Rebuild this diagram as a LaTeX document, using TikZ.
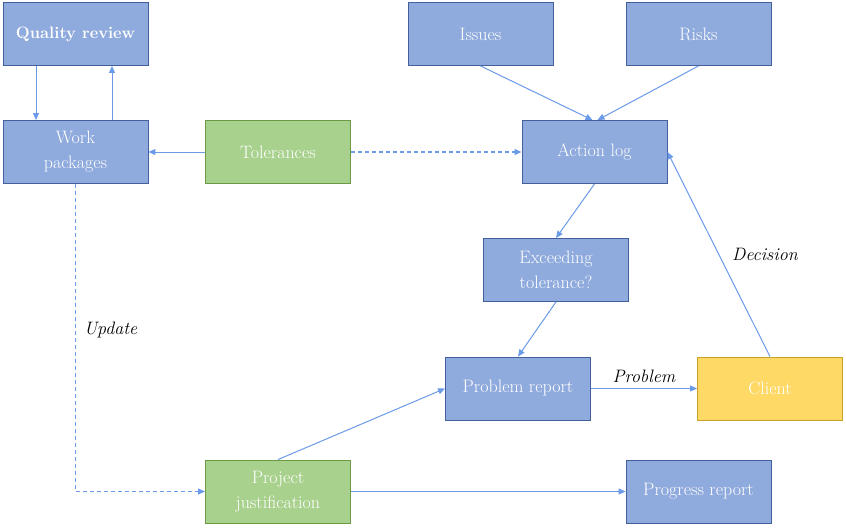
\documentclass[tikz,border=0pt]{standalone}
\usepackage{fontspec}
\usepackage{xcolor}
\usepackage{tikz}
\usetikzlibrary{positioning,arrows.meta}
\definecolor{boxblue}{HTML}{8FAADC}
\definecolor{edgeblue}{HTML}{41609C}
\definecolor{boxgreen}{HTML}{A9D18E}
\definecolor{edgegreen}{HTML}{6A9A45}
\definecolor{boxyellow}{HTML}{FFD966}
\definecolor{edgeyellow}{HTML}{C9A227}
\definecolor{flowblue}{HTML}{6B9AE8}
\tikzset{
  % --- boxes -----------------------------------------------------------------
  pbox/.style={rectangle,draw=edgeblue,fill=boxblue,line width=0.9pt,
               minimum width=145pt,minimum height=63pt,inner sep=2pt,
               text=white,align=center,font=\fontsize{18}{25}\selectfont},
  tolbox/.style={pbox,draw=edgegreen,fill=boxgreen},
  clibox/.style={pbox,draw=edgeyellow,fill=boxyellow},
  % --- flows -----------------------------------------------------------------
  flow/.style={-{Triangle[length=7pt,width=6pt]},flowblue,line width=1pt},
  dflow/.style={flow,dash pattern=on 4pt off 3pt,line width=1.3pt},
  elab/.style={font=\fontsize{18}{25}\selectfont\itshape,text=black,
               inner sep=2pt},
}

\begin{document}
\begin{tikzpicture}[x=1pt, y=-1pt]
  \useasboundingbox (0,0) rectangle (846,528);

  \node[pbox]   (qr)   at (75.5,34)    {\fontsize{16.5}{25}\selectfont\textbf{Quality review}};
  \node[pbox]   (wp)   at (75.5,152) {Work\\packages};
  \node[tolbox] (tol)  at (278,152)  {Tolerances};
  \node[pbox]   (iss)  at (480.5,34)   {Issues};
  \node[pbox]   (risk) at (698.5,34)   {Risks};
  \node[pbox]   (act)  at (594.5,152) {Action log};
  \node[pbox]   (exc)  at (556,270)    {Exceeding\\tolerance?};
  \node[pbox]   (prob) at (518,388.5)  {Problem report};
  \node[clibox] (cli)  at (770,388.5)  {Client};
  \node[tolbox] (pj)   at (278,491.5)  {Project\\justification};
  \node[pbox]   (prog) at (698.5,491.5) {Progress report};

  \draw[flow] ([xshift=-39.5pt]qr.south) -- ([xshift=-39.5pt]wp.north);
  \draw[flow] ([xshift=36.5pt]wp.north) -- ([xshift=36.5pt]qr.south);
  \draw[flow] (tol) -- (wp);
  \draw[dflow] (tol) -- (act);

  \draw[flow] (iss.south) -- ([xshift=-2pt]act.north);
  \draw[flow] (risk.south) -- ([xshift=3pt]act.north);
  \draw[flow] (act.south) -- (exc.north);
  \draw[flow] (exc.south) -- (prob.north);
  \draw[flow] (prob) -- node[elab,above=3pt] {Problem} (cli);
  \draw[flow] (cli.north) -- node[elab,right=11pt] {Decision} (act.east);

  \draw[dflow] (wp.south) |- node[elab,pos=0.238,right=6pt] {Update} (pj.west);
  \draw[flow] (pj.north) -- (prob.west);
  \draw[flow] (pj) -- (prog);
\end{tikzpicture}
\end{document}
